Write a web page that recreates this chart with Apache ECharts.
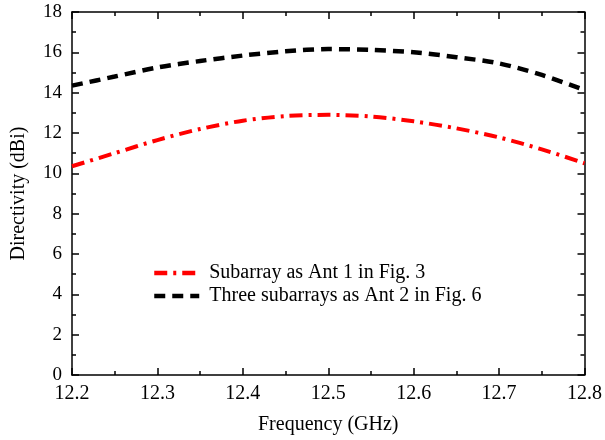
<!DOCTYPE html>
<html lang="en">
<head>
    <meta charset="UTF-8">
    <title>Directivity</title>
    <script src="https://cdn.jsdelivr.net/npm/echarts@6/dist/echarts.min.js"></script>
    <style>
        html, body { margin: 0; padding: 0; background: #fff; }
        #chart { width: 605px; height: 440px; }
    </style>
</head>
<body>
    <div id="chart"></div>
    <script type="text/javascript">
        // 频率 (GHz)
        var freq = [12.2, 12.25, 12.3, 12.35, 12.4, 12.45, 12.5, 12.55, 12.6, 12.65, 12.7, 12.75, 12.8];
        // Ant 1 子阵
        var ant1 = [10.35, 11.0, 11.65, 12.2, 12.61, 12.84, 12.9, 12.82, 12.58, 12.23, 11.78, 11.19, 10.5];
        // Ant 2 三个子阵
        var ant2 = [14.35, 14.8, 15.25, 15.57, 15.84, 16.05, 16.16, 16.12, 16.0, 15.76, 15.45, 14.88, 14.13];
        var seriesNames = ['Subarray as Ant 1 in Fig. 3', 'Three subarrays as Ant 2 in Fig. 6'];
        var yTicks = [0, 2, 4, 6, 8, 10, 12, 14, 16, 18];

        var font = '"Liberation Serif", "DejaVu Serif", serif';

        function pairs(xs, ys) {
            return xs.map(function (x, i) { return [x, ys[i]]; });
        }

        var axisCommon = {
            axisLine: { show: true, onZero: false, lineStyle: { color: '#000', width: 1.5 } },
            axisTick: { show: true, inside: true, length: 7, lineStyle: { color: '#000', width: 1.5 } },
            minorTick: { show: true, splitNumber: 2, length: 4, lineStyle: { color: '#000', width: 1.5 } },
            splitLine: { show: false }
        };

        var option = {
            animation: false,
            grid: { left: 72, right: 19, top: 12, bottom: 65 },
            legend: {
                left: 147,
                top: 258,
                orient: 'vertical',
                itemWidth: 45,
                itemHeight: 12,
                itemGap: 3,
                itemStyle: { opacity: 0 },
                lineStyle: { width: 4.5 },
                textStyle: { fontFamily: font, fontSize: 20, color: '#000', padding: [0, 0, 0, 5] },
                data: seriesNames
            },
            xAxis: [
                Object.assign({
                    type: 'value',
                    min: 12.2,
                    max: 12.8,
                    interval: 0.1,
                    name: 'Frequency (GHz)',
                    nameLocation: 'middle',
                    nameGap: 40,
                    nameTextStyle: { fontFamily: font, fontSize: 20, color: '#000' },
                    axisLabel: {
                        fontFamily: font, fontSize: 20, color: '#000', margin: 9,
                        formatter: function (v) { return v.toFixed(1); }
                    }
                }, axisCommon),
                Object.assign({
                    type: 'value',
                    position: 'top',
                    min: 12.2,
                    max: 12.8,
                    interval: 0.1,
                    axisLabel: { show: false }
                }, axisCommon)
            ],
            yAxis: [
                Object.assign({
                    type: 'value',
                    min: yTicks[0],
                    max: yTicks[yTicks.length - 1],
                    interval: 2,
                    name: 'Directivity (dBi)',
                    nameLocation: 'middle',
                    nameGap: 43,
                    nameTextStyle: { fontFamily: font, fontSize: 20, color: '#000' },
                    axisLabel: { fontFamily: font, fontSize: 19, color: '#000', margin: 10 }
                }, axisCommon),
                Object.assign({
                    type: 'value',
                    position: 'right',
                    min: yTicks[0],
                    max: yTicks[yTicks.length - 1],
                    interval: 2,
                    axisLabel: { show: false }
                }, axisCommon)
            ],
            series: [{
                name: seriesNames[0],
                type: 'line',
                smooth: 0.3,
                symbol: 'none',
                data: pairs(freq, ant1),
                lineStyle: { color: '#ff0000', width: 4, type: [13, 6, 3, 6] },
                itemStyle: { color: '#ff0000' }
            }, {
                name: seriesNames[1],
                type: 'line',
                smooth: 0.3,
                symbol: 'none',
                data: pairs(freq, ant2),
                lineStyle: { color: '#000', width: 4.5, type: [11, 7] },
                itemStyle: { color: '#000' }
            }]
        };

        var myChart = echarts.init(document.getElementById('chart'));
        myChart.setOption(option);
    </script>
</body>
</html>
